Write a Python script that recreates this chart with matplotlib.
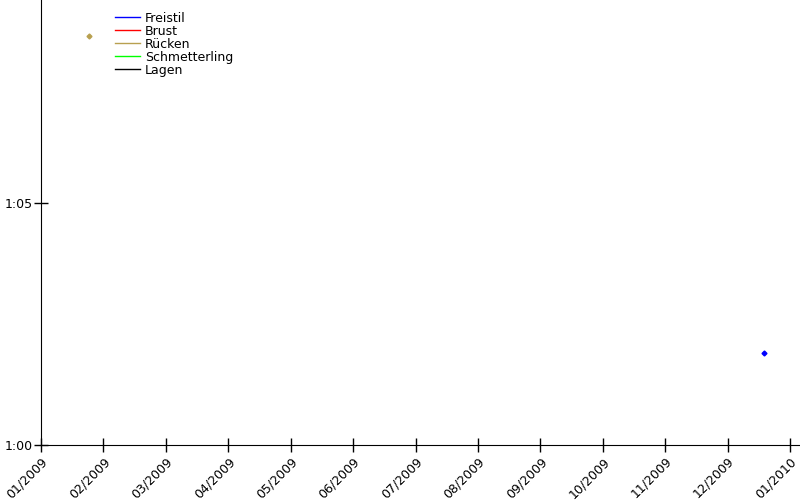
import datetime as dt
import calendar
import matplotlib
matplotlib.use("Agg")
import matplotlib.pyplot as plt
from matplotlib.lines import Line2D
from matplotlib.ticker import FuncFormatter

strokes = ["Freistil", "Brust", "Rücken", "Schmetterling", "Lagen"]
colors = ["#0000ff", "#ff0000", "#b8a050", "#00ff00", "#000000"]

# times in seconds per stroke
dates = {
    "Freistil": [dt.date(2009, 12, 19)],
    "Brust": [],
    "Rücken": [dt.date(2009, 1, 25)],
    "Schmetterling": [],
    "Lagen": [],
}
times = {
    "Freistil": [61.9],
    "Brust": [],
    "Rücken": [68.45],
    "Schmetterling": [],
    "Lagen": [],
}
month_labels = [f"{m:02d}/2009" for m in range(1, 13)] + ["01/2010"]


def month_pos(d):
    # months are spaced evenly on the axis
    days = calendar.monthrange(d.year, d.month)[1]
    return (d.year - 2009) * 12 + (d.month - 1) + (d.day - 1) / days


def fmt_time(v, pos):
    m = int(v // 60)
    s = int(round(v - m * 60))
    return f"{m}:{s:02d}"


fig = plt.figure(figsize=(8, 5), dpi=100)
ax = fig.add_axes([41 / 800, 55 / 500, 1 - 41 / 800, 445 / 500])

for name, c in zip(strokes, colors):
    if dates[name]:
        xs = [month_pos(d) for d in dates[name]]
        ax.plot(xs, times[name], color=c, marker="D", markersize=2.5,
                linewidth=1, linestyle="-")

handles = [Line2D([], [], color=c, linewidth=1) for c in colors]
ax.legend(handles, strokes, loc="upper left", bbox_to_anchor=(0.089, 0.988),
          frameon=False, fontsize=9, handlelength=2.0, handletextpad=0.4,
          labelspacing=0.0, borderpad=0)

ax.set_xlim(0, 12.16)
ax.set_ylim(60, 69.2)
ax.set_xticks(range(len(month_labels)))
ax.set_xticklabels(month_labels, rotation=45, ha="right", rotation_mode="anchor")
ax.set_yticks([60, 65])
ax.yaxis.set_major_formatter(FuncFormatter(fmt_time))

ax.tick_params(direction="inout", length=10, width=1, labelsize=9, colors="black")
ax.tick_params(axis="x", pad=2)
ax.tick_params(axis="y", pad=1)
ax.spines["top"].set_visible(False)
ax.spines["right"].set_visible(False)

fig.savefig("out.png", dpi=100)
